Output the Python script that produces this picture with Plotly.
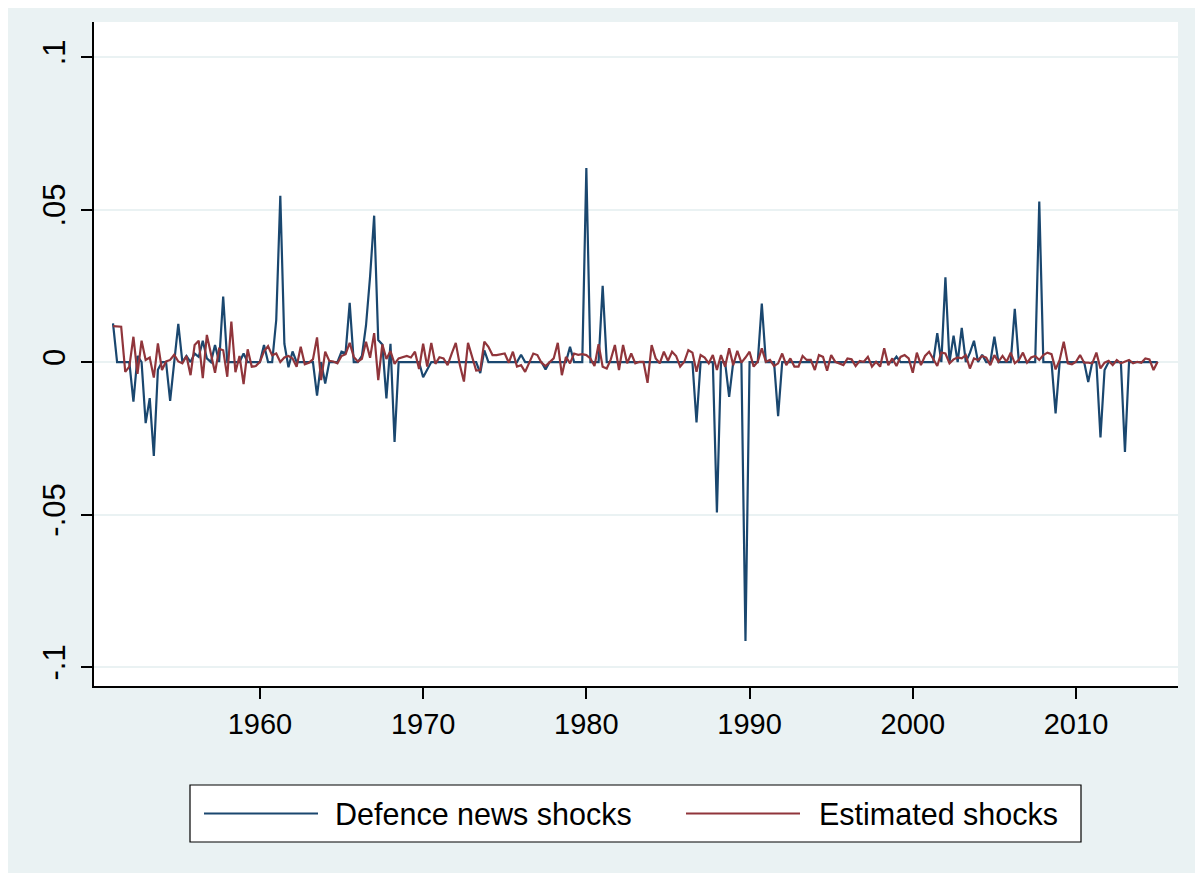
import plotly.graph_objects as go

# ---------------- data (quarterly, 1951q1 .. 2015q1) ----------------
start_year = 1951
defence_news = [
    0.0127, 0, 0, 0,                 # 1951
    0, -0.013, 0.002, 0,             # 1952
    -0.020, -0.0118, -0.0308, -0.0025,  # 1953
    0, 0, -0.0127, 0,                # 1954
    0.0125, 0, 0.002, 0,             # 1955
    0.0028, 0.0017, 0.007, 0.0012,   # 1956
    0, 0.0056, 0, 0.0215,            # 1957
    0, 0, 0, 0,                      # 1958
    0.0028, 0, 0, 0,                 # 1959
    0, 0.0056, 0, 0,                 # 1960
    0.0138, 0.0545, 0.006, -0.0017,  # 1961
    0.0035, 0, 0, 0,                 # 1962
    0, 0, -0.011, 0,                 # 1963
    -0.007, 0, 0, 0,                 # 1964
    0.0034, 0.003, 0.0194, 0,        # 1965
    0, 0.002, 0.012, 0.028,          # 1966
    0.048, 0.0072, 0.0058, -0.0119,  # 1967
    0.006, -0.0262, 0, 0,            # 1968
    0, 0, 0, 0,                      # 1969
    -0.005, -0.0026, 0, 0,           # 1970
    0, 0, 0, 0,                      # 1971
    0, 0, 0, 0,                      # 1972
    0, 0, -0.0036, 0.0038,           # 1973
    0, 0, 0, 0,                      # 1974
    0, 0, 0, 0,                      # 1975
    0.0024, 0, 0, 0,                 # 1976
    0, 0, -0.0024, 0,                # 1977
    0, 0, 0, 0,                      # 1978
    0.005, 0, 0, 0,                  # 1979
    0.0636, 0, 0, 0,                 # 1980
    0.025, 0, 0, 0,                  # 1981
    0, 0, 0, 0,                      # 1982
    0, 0, 0, 0,                      # 1983
    0, 0, 0, 0,                      # 1984
    0, 0, 0, 0,                      # 1985
    0, 0, 0, -0.0198,                # 1986
    0, 0, 0, 0,                      # 1987
    -0.0493, 0, 0, -0.0114,          # 1988
    0, 0, 0, -0.0914,                # 1989
    0, 0, 0, 0.0192,                 # 1990
    0, 0, 0, -0.0177,                # 1991
    0, 0, 0, 0,                      # 1992
    0, 0, 0, 0,                      # 1993
    0, 0, 0, 0,                      # 1994
    0, 0, 0, 0,                      # 1995
    0, 0, 0, 0,                      # 1996
    0, 0, 0, 0,                      # 1997
    0, 0, 0, 0,                      # 1998
    0.0018, 0, 0, 0,                 # 1999
    0, 0, 0, 0,                      # 2000
    0, 0, 0.0095, 0,                 # 2001
    0.0278, 0, 0.0087, 0,            # 2002
    0.0112, 0, 0.003, 0.007,         # 2003
    0, 0.0024, 0, 0,                 # 2004
    0.0083, 0, 0, 0,                 # 2005
    0, 0.0175, 0, 0,                 # 2006
    0, 0, 0, 0.0526,                 # 2007
    0, 0, 0, -0.0168,                # 2008
    0, 0, 0, 0,                      # 2009
    0, 0, 0, -0.0065,                # 2010
    0, 0, -0.0247, -0.0026,          # 2011
    0, 0, 0, 0,                      # 2012
    -0.0295, 0, 0, 0,                # 2013
    0, 0, 0, 0,                      # 2014
    0,                               # 2015
]

estimated = [
    0.0118, 0.0118, 0.0116, -0.0032,    # 1951
    -0.0015, 0.0083, -0.0039, 0.007,    # 1952
    0.0007, 0.0015, -0.0051, 0.0061,    # 1953
    -0.0026, 0.0002, 0.0007, 0.0024,    # 1954
    0.0002, -0.0004, 0.002, -0.0043,    # 1955
    0.0056, 0.007, -0.0053, 0.0089,     # 1956
    0.0023, -0.0035, 0.0044, 0.0039,    # 1957
    -0.0048, 0.0133, -0.0033, 0.002,    # 1958
    -0.0072, 0.0042, -0.0015, -0.0013,  # 1959
    0.0001, 0.0035, 0.0052, 0.0022,     # 1960
    0.0028, 0.0, 0.0015, 0.002,         # 1961
    0.0012, -0.0015, 0.005, -0.0007,    # 1962
    -0.0002, 0.0009, 0.0081, -0.0059,   # 1963
    0.0034, 0.0004, 0.0002, -0.0004,    # 1964
    0.002, 0.0026, 0.0063, 0.0017,      # 1965
    0.0002, 0.0011, 0.0067, 0.0014,     # 1966
    0.0095, -0.0059, 0.0058, 0.001,     # 1967
    0.0036, -0.0006, 0.0012, 0.0017,    # 1968
    0.002, 0.0015, 0.0034, -0.0023,     # 1969
    0.006, -0.0015, 0.0063, -0.0006,    # 1970
    0.0016, 0.0012, -0.001, 0.0028,     # 1971
    0.0063, -0.001, -0.0064, 0.0063,    # 1972
    0.0017, -0.0028, -0.0026, 0.0067,   # 1973
    0.005, 0.0023, 0.0023, 0.0025,      # 1974
    0.0028, -0.0002, 0.0034, -0.0015,   # 1975
    -0.001, -0.0032, -0.0004, 0.0028,   # 1976
    0.0023, -0.0002, -0.0013, 0.0001,   # 1977
    0.0012, 0.0063, -0.0043, 0.0017,    # 1978
    -0.0004, 0.0028, 0.0024, 0.0026,    # 1979
    0.0023, 0.0012, -0.0013, 0.0059,    # 1980
    -0.0015, -0.0021, 0.0009, 0.0056,   # 1981
    -0.0026, 0.0056, -0.0004, 0.0028,   # 1982
    -0.0004, 0.0001, 0.0001, -0.0068,   # 1983
    0.0056, 0.0012, -0.0004, 0.0034,    # 1984
    0.0004, 0.0034, 0.002, -0.0015,     # 1985
    0.0001, 0.0039, 0.0031, -0.0032,    # 1986
    0.0023, 0.0015, -0.0004, 0.0023,    # 1987
    -0.0026, 0.0023, -0.0015, 0.0045,   # 1988
    -0.001, 0.0037, -0.0002, 0.0015,    # 1989
    0.0034, -0.0015, 0.0001, 0.0045,    # 1990
    0.0001, 0.0007, -0.0013, -0.0004,   # 1991
    0.0028, -0.001, 0.0012, -0.0015,    # 1992
    -0.0015, 0.002, 0.0007, 0.0007,     # 1993
    -0.0026, 0.0023, 0.0017, -0.0028,   # 1994
    0.0023, 0.0001, -0.0004, -0.001,    # 1995
    0.0012, 0.0009, -0.0013, 0.0004,    # 1996
    0.0001, 0.0017, -0.0015, 0.0001,    # 1997
    -0.0015, 0.0045, -0.001, 0.0012,    # 1998
    -0.0013, 0.0017, 0.0023, 0.0012,    # 1999
    -0.0035, 0.0031, -0.001, 0.002,     # 2000
    0.0034, 0.0009, -0.0013, 0.0031,    # 2001
    0.0028, -0.0004, 0.0009, 0.0015,    # 2002
    0.0012, 0.0023, -0.0021, 0.0012,    # 2003
    0.0007, 0.002, 0.0015, -0.001,      # 2004
    0.0023, 0.0001, 0.002, 0.0001,      # 2005
    0.0031, -0.0004, 0.0007, 0.0031,    # 2006
    -0.0002, 0.0015, 0.002, 0.0007,     # 2007
    0.0023, 0.0031, 0.0026, -0.0024,    # 2008
    0.0007, 0.0067, -0.0004, -0.0007,   # 2009
    0.0001, 0.0023, -0.0002, -0.0002,   # 2010
    -0.0004, 0.0031, -0.0021, -0.0002,  # 2011
    0.0004, -0.001, 0.0007, -0.0004,    # 2012
    0.0001, 0.0007, -0.0004, 0.0001,    # 2013
    -0.0002, 0.0012, 0.0009, -0.0026,   # 2014
    0.0001,                             # 2015
]

series_names = ["Defence news shocks", "Estimated shocks"]
x_tick_values = [1960, 1970, 1980, 1990, 2000, 2010]
x_tick_labels = ["1960", "1970", "1980", "1990", "2000", "2010"]
y_tick_values = [-0.1, -0.05, 0, 0.05, 0.1]
y_tick_labels = ["-.1", "-.05", "0", ".05", ".1"]

# quarterly time axis (Stata %tq style: 1960q1 -> 1960.0)
dates = [start_year + k / 4 for k in range(len(defence_news))]

# ---------------- styling ----------------
W, H = 1203, 878
OFF = 8  # the page places the figure 8px in from the top-left corner
# target positions in screenshot pixels
PL, PR, PT, PB = 94, 1178, 22, 686
ML, MT = PL - OFF, PT - OFF
MR, MB = W - (PR - OFF), H - (PB - OFF)
PW, PH = PR - PL, PB - PT
NAVY = "#1A476F"
MAROON = "#90353B"
BG = "#EAF2F3"
FONT = "Liberation Sans, Arial, Helvetica, sans-serif"


def px(xp):
    return (xp - PL) / PW


def py(yp):
    return (PB - yp) / PH


fig = go.Figure()
fig.add_trace(go.Scatter(x=dates, y=defence_news, mode="lines", name=series_names[0],
                         line=dict(color=NAVY, width=2.2), showlegend=False))
fig.add_trace(go.Scatter(x=dates, y=estimated, mode="lines", name=series_names[1],
                         line=dict(color=MAROON, width=2.2), showlegend=False))

shapes = [
    # graph region background
    dict(type="rect", xref="paper", yref="paper", layer="below",
         x0=px(0), x1=px(1198), y0=py(873), y1=py(0),
         fillcolor=BG, line=dict(width=0)),
    # plot region
    dict(type="rect", xref="paper", yref="paper", layer="below",
         x0=0, x1=1, y0=0, y1=1, fillcolor="white", line=dict(width=0)),
    # legend box
    dict(type="rect", xref="paper", yref="paper",
         x0=px(190), x1=px(1081), y0=py(842), y1=py(785),
         fillcolor="white", line=dict(color="black", width=1.2)),
    # legend keys
    dict(type="line", xref="paper", yref="paper",
         x0=px(204), x1=px(318), y0=py(813.5), y1=py(813.5),
         line=dict(color=NAVY, width=2.2)),
    dict(type="line", xref="paper", yref="paper",
         x0=px(686), x1=px(800), y0=py(813.5), y1=py(813.5),
         line=dict(color=MAROON, width=2.2)),
]

annotations = [
    dict(text=series_names[0], xref="paper", yref="paper", x=px(333), y=py(813.5),
         xanchor="left", yanchor="middle", showarrow=False,
         font=dict(family=FONT, size=30.5, color="black")),
    dict(text=series_names[1], xref="paper", yref="paper", x=px(817), y=py(813.5),
         xanchor="left", yanchor="middle", showarrow=False,
         font=dict(family=FONT, size=30.5, color="black")),
]

fig.update_layout(
    width=W, height=H,
    margin=dict(l=ML, r=MR, t=MT, b=MB, pad=0),
    paper_bgcolor="white",
    plot_bgcolor="white",
    font=dict(family=FONT, size=28, color="black"),
    shapes=shapes,
    annotations=annotations,
    showlegend=False,
)

fig.update_xaxes(
    range=[1949.835, 2016.25],
    tickmode="array", tickvals=x_tick_values, ticktext=x_tick_labels,
    showgrid=False, zeroline=False,
    showline=True, linecolor="black", linewidth=1.5,
    ticks="outside", ticklen=11, tickwidth=1.5, tickcolor="black",
    tickfont=dict(family=FONT, size=29, color="black"),
    ticklabelstandoff=0,
)
fig.update_yaxes(
    range=[-0.1062, 0.1115],
    tickmode="array", tickvals=y_tick_values, ticktext=y_tick_labels,
    tickangle=-90,
    showgrid=True, gridcolor=BG, gridwidth=1.5, zeroline=False,
    showline=True, linecolor="black", linewidth=1.5,
    ticks="outside", ticklen=11, tickwidth=1.5, tickcolor="black",
    tickfont=dict(family=FONT, size=31, color="black"),
    ticklabelstandoff=4,
)

fig.write_html("out.html")
